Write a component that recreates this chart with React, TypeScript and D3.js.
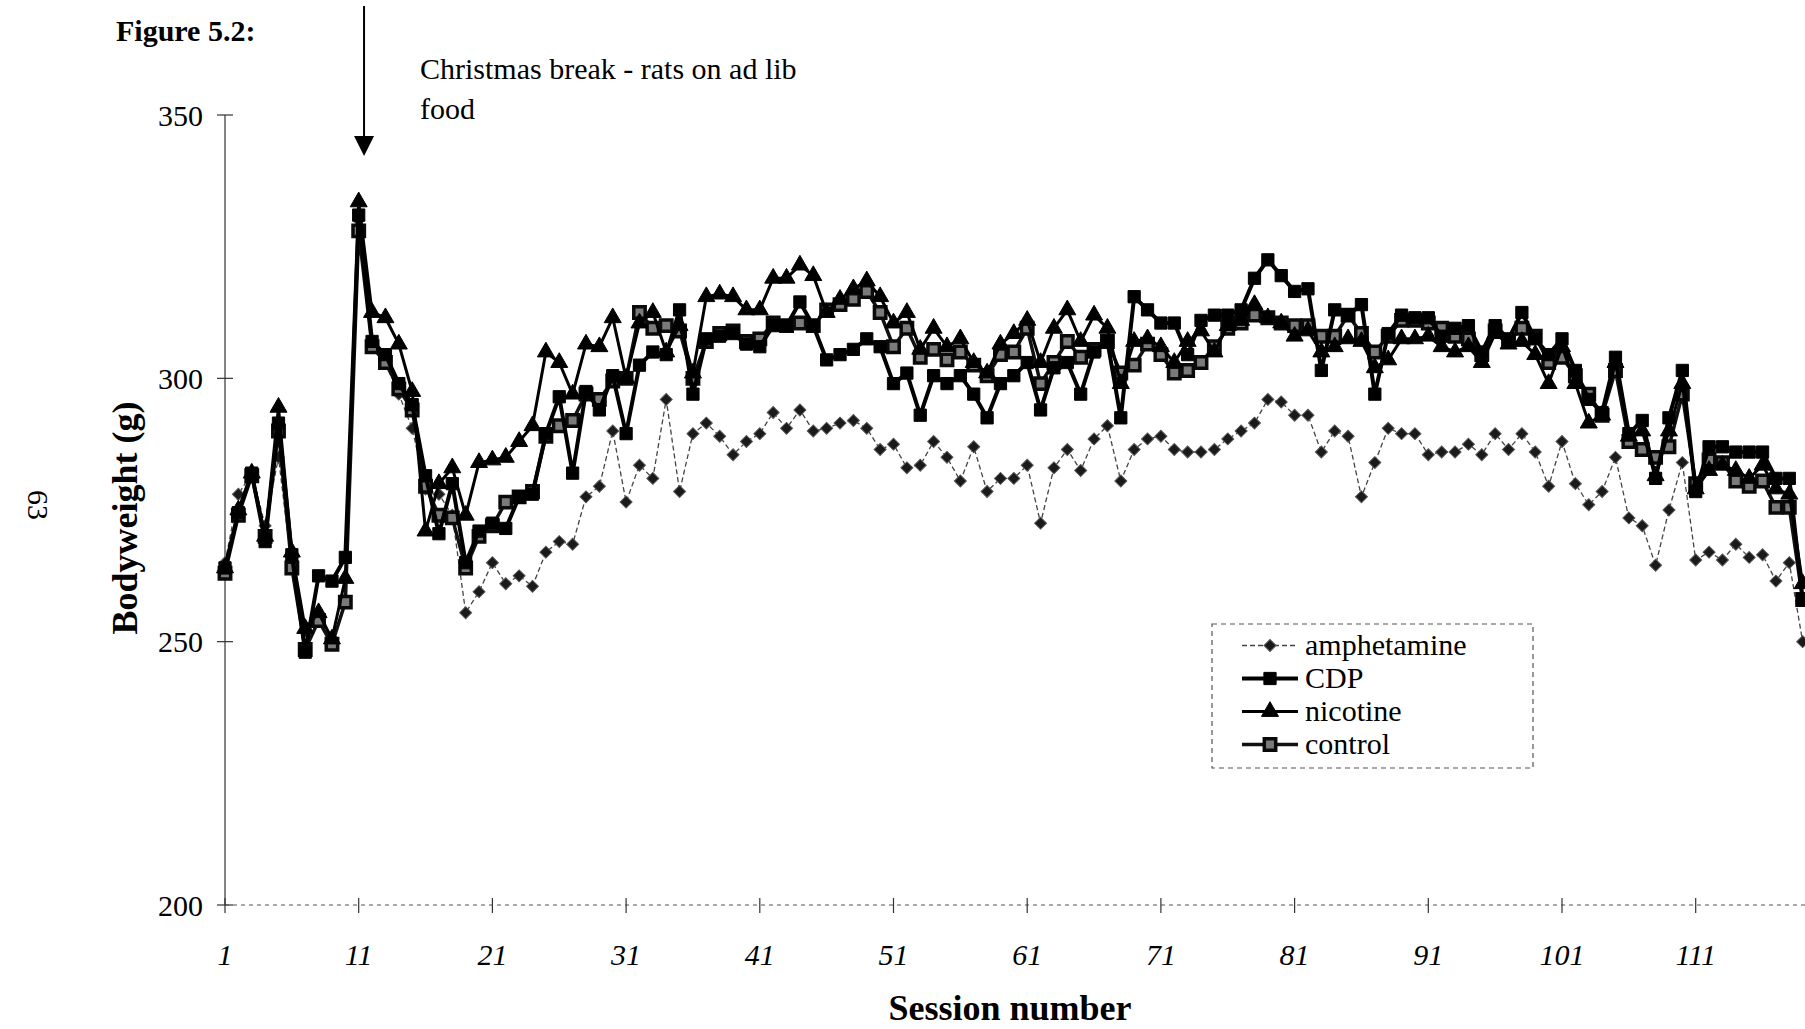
import React from "react";
import * as d3 from "d3";

const seriesNames = ["amphetamine", "CDP", "nicotine", "control"];

const amphetamine = [
  265, 278, 282, 272, 285, 264, 252, 254, 250, 258,
  330, 307, 303, 297, 290.5, 279, 278, 274, 255.5, 259.5,
  265, 261, 262.5, 260.5, 267, 269, 268.5, 277.5, 279.5, 290,
  276.5, 283.5, 281, 296, 278.5, 289.5, 291.5, 289, 285.5, 288,
  289.5, 293.5, 290.5, 294, 290, 290.5, 291.5, 292, 290.5, 286.5,
  287.5, 283, 283.5, 288, 285, 280.5, 287, 278.5, 281, 281,
  283.5, 272.5, 283, 286.5, 282.5, 288.5, 291, 280.5, 286.5, 288.5,
  289, 286.5, 286, 286, 286.5, 288.5, 290, 291.5, 296, 295.5,
  293, 293, 286, 290, 289, 277.5, 284, 290.5, 289.5, 289.5,
  285.5, 286, 286, 287.5, 285.5, 289.5, 286.5, 289.5, 286, 279.5,
  288, 280, 276, 278.5, 285, 273.5, 272, 264.5, 275, 284,
  265.5, 267, 265.5, 268.5, 266, 266.5, 261.5, 265, 250,
];

const cdp = [
  264, 274.5, 282, 269, 291.5, 266.5, 248, 262.5, 261.5, 266,
  331, 307, 304.5, 299, 295, 281.5, 270.5, 280, 265, 271,
  272.5, 271.5, 277.5, 278, 289.5, 296.5, 282, 297.5, 294, 300.5,
  289.5, 302.5, 305, 304.5, 313, 297, 307.5, 308, 308.5, 306.5,
  306, 310, 310, 314.5, 310, 303.5, 304.5, 305.5, 307.5, 306,
  299, 301, 293, 300.5, 299, 300.5, 297, 292.5, 299, 300.5,
  303, 294, 302, 303, 297, 305, 307, 292.5, 315.5, 313,
  310.5, 310.5, 304.5, 311, 312, 312, 313, 319, 322.5, 319.5,
  316.5, 317, 301.5, 313, 312, 314, 297, 308.5, 312, 311.5,
  311.5, 308, 309.5, 310, 305, 310, 307.5, 312.5, 307.5, 304.5,
  307.5, 301.5, 296, 293.5, 304, 289.5, 292, 281, 292.5, 301.5,
  278.5, 287, 287, 286, 286, 286, 281, 281, 258,
];

const nicotine = [
  264, 275, 282, 270, 294.5, 267, 252.5, 255.5, 250.5, 262,
  333.5, 312.5, 311.5, 306.5, 297.5, 271, 280, 283, 274, 284,
  284.5, 285, 288, 291, 305, 303, 297, 306.5, 306, 311.5,
  300, 310.5, 312.5, 305, 310, 301, 315.5, 316, 315.5, 313,
  313, 319, 319, 321.5, 319.5, 312.5, 315, 317, 318.5, 315.5,
  310.5, 312.5, 305.5, 309.5, 306, 307.5, 303, 301, 306.5, 308.5,
  311, 303, 309.5, 313, 307, 312, 309.5, 299, 307, 307.5,
  306, 303, 307, 309, 305, 310, 311, 314, 311.5, 310.5,
  308, 309, 305, 306, 307.5, 307, 302, 303.5, 307.5, 307.5,
  308, 306, 305, 306, 303, 308.5, 306.5, 307, 304.5, 299,
  306, 299, 291.5, 293, 303, 289, 290, 281.5, 290, 299,
  279, 282.5, 283.5, 282.5, 281, 283.5, 279, 278, 261,
];

const control = [
  263, 274, 281.5, 270, 290, 264, 248.5, 254, 249.5, 257.5,
  328, 306, 303, 298, 294, 279.5, 274, 273.5, 264, 270,
  272, 276.5, 277.5, 278.5, 289, 291, 292, 297, 296, 299.5,
  300, 312.5, 309.5, 310, 309, 300, 307, 308.5, 309, 307,
  307.5, 310.5, 310, 310.5, 310, 313, 314, 315, 316.5, 312.5,
  306, 309.5, 304, 305.5, 303.5, 305, 302.5, 300.5, 304.5, 305,
  309.5, 299, 303, 307, 304, 305.5, 307, 301, 302.5, 306.5,
  304.5, 301, 301.5, 303, 306, 309.5, 310.5, 312, 311.5, 310.5,
  310, 310, 308, 308, 312, 308.5, 305, 308, 311, 311,
  310.5, 309.5, 308, 307.5, 304.5, 309, 307, 309.5, 308, 303,
  304, 300.5, 297, 293, 301.5, 288, 286.5, 285, 287, 297,
  280, 284.5, 284, 280.5, 279.5, 280.5, 275.5, 275.5, 258,
];

const xTickLabels = [1, 11, 21, 31, 41, 51, 61, 71, 81, 91, 101, 111];
const yTickLabels = [200, 250, 300, 350];

const SERIF = "'Liberation Serif', 'Times New Roman', Times, serif";

type Style = {
  name: string;
  values: number[];
  stroke: string;
  width: number;
  dash?: string;
  symbol: d3.SymbolType;
  size: number;
  rotate: number;
  fill: string;
  mstroke: string;
  mwidth: number;
};

const styles: Style[] = [
  { name: seriesNames[0], values: amphetamine, stroke: "#444", width: 1.3, dash: "5,3", symbol: d3.symbolSquare, size: 72, rotate: 45, fill: "#1a1a1a", mstroke: "#555", mwidth: 1 },
  { name: seriesNames[3], values: control, stroke: "#111", width: 3.5, symbol: d3.symbolSquare, size: 130, rotate: 0, fill: "#7a7a7a", mstroke: "#0a0a0a", mwidth: 3.5 },
  { name: seriesNames[1], values: cdp, stroke: "#000", width: 4, symbol: d3.symbolSquare, size: 150, rotate: 0, fill: "#000", mstroke: "#000", mwidth: 1 },
  { name: seriesNames[2], values: nicotine, stroke: "#000", width: 3, symbol: d3.symbolTriangle, size: 125, rotate: 0, fill: "#000", mstroke: "#000", mwidth: 1 },
];

export default function App() {
  const W = 1805;
  const H = 1029;
  const x = d3.scaleLinear().domain([1, 111]).range([225, 1695.7]);
  const y = d3.scaleLinear().domain([200, 350]).range([905, 115]);

  const line = d3
    .line<number>()
    .x((_, i) => x(i + 1))
    .y((d) => y(d));

  const arrowX = x(11.4);

  return (
    <svg
      width={W}
      height={H}
      viewBox={`0 0 ${W} ${H}`}
      style={{ position: "absolute", left: 0, top: 0, background: "#fff", display: "block" }}
      fontFamily={SERIF}
    >
      <rect x={0} y={0} width={W} height={H} fill="#fff" />

      {/* figure label */}
      <text x={116} y={41} fontSize={30} fontWeight="bold" fill="#000">Figure 5.2:</text>

      {/* page number */}
      <text transform="translate(28,505) rotate(90)" fontSize={30} textAnchor="middle" fill="#000">63</text>

      {/* annotation arrow */}
      <line x1={arrowX} x2={arrowX} y1={6} y2={140} stroke="#000" strokeWidth={2} />
      <polygon points={`${arrowX - 10},136 ${arrowX + 10},136 ${arrowX},156`} fill="#000" />
      <text x={420} y={79} fontSize={30} fill="#000">Christmas break - rats on ad lib</text>
      <text x={420} y={119} fontSize={30} fill="#000">food</text>

      {/* y axis */}
      <line x1={225} x2={225} y1={y(350)} y2={y(200)} stroke="#333" strokeWidth={1.2} />
      {yTickLabels.map((t) => (
        <g key={t}>
          <line x1={217} x2={233} y1={y(t)} y2={y(t)} stroke="#333" strokeWidth={1.2} />
          <text x={203} y={y(t)} dy="0.35em" fontSize={30} textAnchor="end" fill="#000">{t}</text>
        </g>
      ))}

      {/* x axis */}
      <line x1={225} x2={W} y1={y(200)} y2={y(200)} stroke="#555" strokeWidth={1.2} strokeDasharray="4,4" />
      {xTickLabels.map((t) => (
        <g key={t}>
          <line x1={x(t)} x2={x(t)} y1={y(200) - 7} y2={y(200) + 8} stroke="#333" strokeWidth={1.2} />
          <text x={x(t)} y={965} fontSize={30} fontStyle="italic" textAnchor="middle" fill="#000">{t}</text>
        </g>
      ))}

      {/* axis titles */}
      <text x={1010} y={1020} fontSize={36} fontWeight="bold" textAnchor="middle" fill="#000">Session number</text>
      <text transform="translate(137,518) rotate(-90)" fontSize={36} fontWeight="bold" textAnchor="middle" fill="#000">Bodyweight (g)</text>

      {/* series */}
      {styles.map((s) => (
        <g key={s.name}>
          <path d={line(s.values) || ""} fill="none" stroke={s.stroke} strokeWidth={s.width} strokeDasharray={s.dash} strokeLinejoin="round" />
          {s.values.map((v, i) => (
            <path
              key={i}
              d={d3.symbol(s.symbol, s.size)() || ""}
              transform={`translate(${x(i + 1)},${y(v)}) rotate(${s.rotate})`}
              fill={s.fill}
              stroke={s.mstroke}
              strokeWidth={s.mwidth}
            />
          ))}
        </g>
      ))}

      {/* legend */}
      <rect x={1212} y={624} width={321} height={144} fill="#fff" stroke="#555" strokeWidth={1.2} strokeDasharray="5,4" />
      {seriesNames.map((name, k) => {
        const s = styles.find((st) => st.name === name)!;
        const ly = 645.5 + k * 33;
        return (
          <g key={name}>
            <line x1={1242} x2={1298} y1={ly} y2={ly} stroke={s.stroke} strokeWidth={s.width} strokeDasharray={s.dash} />
            <path
              d={d3.symbol(s.symbol, s.size)() || ""}
              transform={`translate(1270,${ly}) rotate(${s.rotate})`}
              fill={s.fill}
              stroke={s.mstroke}
              strokeWidth={s.mwidth}
            />
            <text x={1305} y={ly + 9} fontSize={30} fill="#000">{name}</text>
          </g>
        );
      })}
    </svg>
  );
}
